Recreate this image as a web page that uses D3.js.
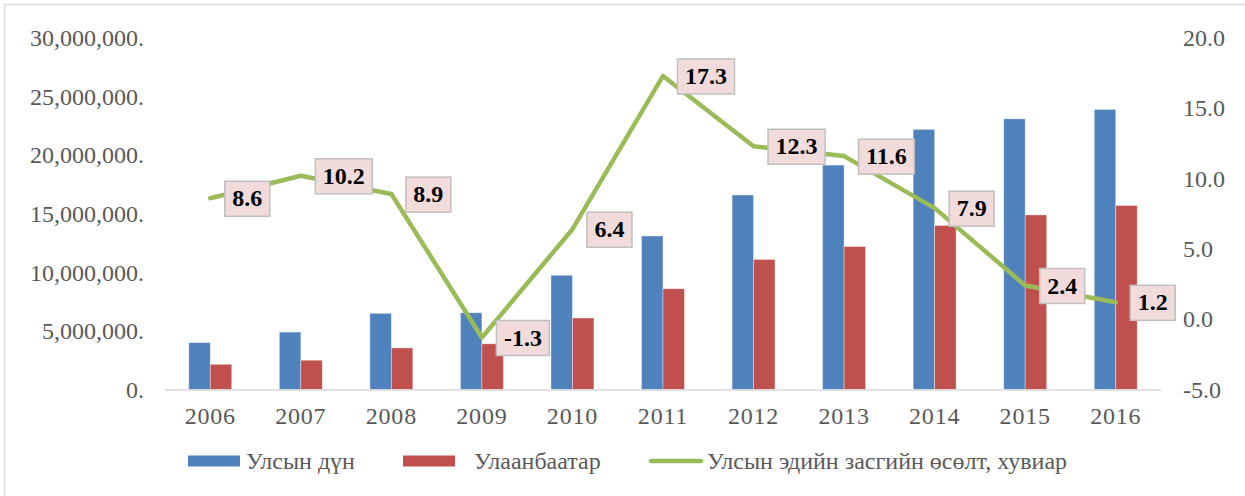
<!DOCTYPE html>
<html>
<head>
<meta charset="utf-8">
<script src="https://cdn.jsdelivr.net/npm/d3@7"></script>
<style>
  html, body { margin: 0; padding: 0; background: #fff; }
  svg { display: block; }
</style>
</head>
<body>
<svg id="chart"></svg>
<script>
const width = 1245
const height = 496

// data
const years = ['2006', '2007', '2008', '2009', '2010', '2011', '2012', '2013', '2014', '2015', '2016']
const national = [4000000, 4900000, 6500000, 6550000, 9750000, 13100000, 16600000, 19150000, 22200000, 23100000, 23900000]
const ulaanbaatar = [2150000, 2500000, 3550000, 3900000, 6100000, 8600000, 11100000, 12200000, 14000000, 14900000, 15700000]
const growth = [8.6, 10.2, 8.9, -1.3, 6.4, 17.3, 12.3, 11.6, 7.9, 2.4, 1.2]
const leftTicks = [0, 5000000, 10000000, 15000000, 20000000, 25000000, 30000000]
const rightTicks = [-5, 0, 5, 10, 15, 20]
const seriesNames = ['Улсын дүн', 'Улаанбаатар', 'Улсын эдийн засгийн өсөлт, хувиар']

const colors = { blue: '#4F81BD', red: '#C0504D', green: '#9BBB59' }
const font = '"Liberation Serif", "Times New Roman", serif'

// hyphen instead of unicode minus, like the original
const fmt1 = v => d3.format('.1f')(v).replace('\u2212', '-')

const margin = { left: 165, right: 84, top: 38, bottom: 106.5 }
const plotW = width - margin.left - margin.right
const plotH = height - margin.top - margin.bottom

const svg = d3.select('#chart').attr('width', width).attr('height', height)

// outer frame
svg.append('rect')
  .attr('x', 4.5).attr('y', 4.5)
  .attr('width', width + 10).attr('height', height + 10)
  .attr('fill', '#fff')
  .attr('stroke', '#D9D9D9')
  .attr('stroke-width', 1.5)

const g = svg.append('g').attr('transform', `translate(${margin.left},${margin.top})`)

const x = d3.scaleBand().domain(years).range([0, plotW])
const yLeft = d3.scaleLinear().domain([0, 30000000]).range([plotH, 0])
const yRight = d3.scaleLinear().domain([-5, 20]).range([plotH, 0])

const barW = x.bandwidth() * 0.237
const groupW = barW * 2

// bars
const bars = g.append('g').attr('class', 'bars')
const series = [
  { values: national, color: colors.blue, offset: 0 },
  { values: ulaanbaatar, color: colors.red, offset: 1 }
]
series.forEach(s => {
  bars.selectAll(null)
    .data(years)
    .enter().append('rect')
    .attr('x', (d, i) => x(d) + x.bandwidth() / 2 - groupW / 2 + s.offset * barW)
    .attr('y', (d, i) => yLeft(s.values[i]))
    .attr('width', barW)
    .attr('height', (d, i) => yLeft(0) - yLeft(s.values[i]))
    .attr('fill', s.color)
    .attr('stroke', 'rgba(255,255,255,0.45)')
    .attr('stroke-width', 0.8)
})

// x axis line
g.append('line')
  .attr('x1', 0).attr('x2', plotW)
  .attr('y1', plotH + 0.5).attr('y2', plotH + 0.5)
  .attr('stroke', '#D9D9D9')
  .attr('stroke-width', 1.5)

// left axis
const leftAxis = d3.axisLeft(yLeft)
  .tickValues(leftTicks)
  .tickSize(0)
  .tickPadding(21)
  .tickFormat(d => d3.format(',')(d) + '.')
const la = g.append('g').call(leftAxis)
la.select('.domain').remove()
la.selectAll('text')
  .attr('font-family', font)
  .attr('font-size', 24)
  .attr('fill', '#595959')

// right axis
const rightAxis = d3.axisRight(yRight)
  .tickValues(rightTicks)
  .tickSize(0)
  .tickPadding(22)
  .tickFormat(fmt1)
const ra = g.append('g').attr('transform', `translate(${plotW},0)`).call(rightAxis)
ra.select('.domain').remove()
ra.selectAll('text')
  .attr('font-family', font)
  .attr('font-size', 24)
  .attr('fill', '#595959')

// bottom axis labels
const bottomAxis = d3.axisBottom(x).tickSize(0).tickPadding(17)
const ba = g.append('g').attr('transform', `translate(0,${plotH})`).call(bottomAxis)
ba.select('.domain').remove()
ba.selectAll('text')
  .attr('font-family', font)
  .attr('font-size', 24)
  .attr('fill', '#595959')
  .attr('letter-spacing', 0.8)

// growth line
const line = d3.line()
  .x((d, i) => x(years[i]) + x.bandwidth() / 2)
  .y(d => yRight(d))
g.append('path')
  .datum(growth)
  .attr('d', line)
  .attr('fill', 'none')
  .attr('stroke', colors.green)
  .attr('stroke-width', 4.5)
  .attr('stroke-linejoin', 'round')
  .attr('stroke-linecap', 'round')

// data labels
const labels = g.append('g').attr('class', 'labels')
growth.forEach((v, i) => {
  const px = x(years[i]) + x.bandwidth() / 2
  const py = yRight(v)
  const lg = labels.append('g').attr('transform', `translate(${px + 14},${py})`)
  const t = lg.append('text')
    .attr('x', 0).attr('y', 0)
    .attr('dy', '0.34em')
    .attr('font-family', font)
    .attr('font-size', 24)
    .attr('font-weight', 'bold')
    .attr('fill', '#000')
    .text(fmt1(v))
  const tw = t.node().getComputedTextLength()
  const padX = 7.5
  lg.insert('rect', 'text')
    .attr('x', 0.5).attr('y', -17)
    .attr('width', tw + padX * 2).attr('height', 35)
    .attr('fill', '#F2DCDB')
    .attr('stroke', '#BFBFBF')
    .attr('stroke-width', 1.5)
  t.attr('x', padX + 0.5)
})

// legend
const legend = svg.append('g').attr('transform', 'translate(0,461)')
const legendItems = [
  { name: seriesNames[0], x: 188, type: 'rect', color: colors.blue },
  { name: seriesNames[1], x: 403, type: 'rect', color: colors.red },
  { name: seriesNames[2], x: 649, type: 'line', color: colors.green }
]
legendItems.forEach(it => {
  if (it.type === 'rect') {
    legend.append('rect')
      .attr('x', it.x).attr('y', -5.5)
      .attr('width', 52).attr('height', 11)
      .attr('fill', it.color)
  } else {
    legend.append('line')
      .attr('x1', it.x + 2).attr('x2', it.x + 52)
      .attr('y1', 0).attr('y2', 0)
      .attr('stroke', it.color)
      .attr('stroke-width', 4.5)
      .attr('stroke-linecap', 'round')
  }
  legend.append('text')
    .attr('x', it.type === 'rect' && it.x > 300 ? it.x + 71 : it.x + 58)
    .attr('y', 0)
    .attr('dy', '0.34em')
    .attr('font-family', font)
    .attr('font-size', 24)
    .attr('fill', '#595959')
    .text(it.name)
})
</script>
</body>
</html>
